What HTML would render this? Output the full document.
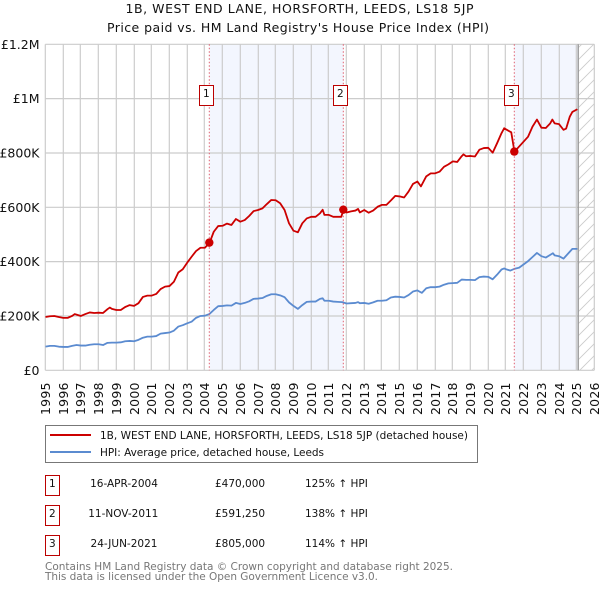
<!DOCTYPE html>
<html lang="en">
<head>
<meta charset="utf-8">
<title>1B, West End Lane price chart</title>
<style>
html,body{margin:0;padding:0;background:#fff;width:600px;height:590px;overflow:hidden}
svg{display:block}
text{font-family:"DejaVu Sans","Liberation Sans",sans-serif;fill:#111}
</style>
</head>
<body>
<svg id="chart" xmlns="http://www.w3.org/2000/svg" width="600" height="590" viewBox="0 0 600 590">
<defs>
<pattern id="hatch" patternUnits="userSpaceOnUse" width="12" height="12" patternTransform="translate(578 0)">
<path d="M0 12L12 0M-3 3L3 -3M9 15L15 9" stroke="#ccc" stroke-width="0.9" fill="none"/>
</pattern>
</defs>
<text x="299.5" y="13" text-anchor="middle" font-size="12.5" textLength="348">1B, WEST END LANE, HORSFORTH, LEEDS, LS18 5JP</text>
<text x="298" y="32" text-anchor="middle" font-size="12.5" textLength="382">Price paid vs. HM Land Registry's House Price Index (HPI)</text>
<g id="bands"></g>
<g id="grid"></g>
<g id="labels"></g>
<g id="series"></g>
<g id="sales"></g>

<g>
<rect x="45.5" y="425.5" width="432" height="37" fill="#fff" stroke="#777" stroke-width="1"/>
<line x1="50" y1="435" x2="91" y2="435" stroke="#cc0000" stroke-width="2"/>
<text x="100" y="439" font-size="10.5" textLength="368">1B, WEST END LANE, HORSFORTH, LEEDS, LS18 5JP (detached house)</text>
<line x1="50" y1="452" x2="91" y2="452" stroke="#5b8bd0" stroke-width="2"/>
<text x="100" y="456" font-size="10.5" textLength="224">HPI: Average price, detached house, Leeds</text>
</g>

<g font-size="10.5">
<g>
<rect x="45.5" y="475.5" width="14" height="20" fill="#fff" stroke="#bb0000" stroke-width="1"/>
<text x="52.3" y="487" text-anchor="middle">1</text>
<text x="124" y="487" text-anchor="middle">16-APR-2004</text>
<text x="215" y="487">£470,000</text>
<text x="305" y="487">125% ↑ HPI</text>
</g>
<g>
<rect x="45.5" y="505.5" width="14" height="20" fill="#fff" stroke="#bb0000" stroke-width="1"/>
<text x="52.3" y="517" text-anchor="middle">2</text>
<text x="123.3" y="517" text-anchor="middle">11-NOV-2011</text>
<text x="215" y="517">£591,250</text>
<text x="305" y="517">138% ↑ HPI</text>
</g>
<g>
<rect x="45.5" y="535.5" width="14" height="20" fill="#fff" stroke="#bb0000" stroke-width="1"/>
<text x="52.3" y="547" text-anchor="middle">3</text>
<text x="124" y="547" text-anchor="middle">24-JUN-2021</text>
<text x="215" y="547">£805,000</text>
<text x="305" y="547">114% ↑ HPI</text>
</g>
</g>
<text x="45" y="570" font-size="10.5" textLength="408" style="fill:#777">Contains HM Land Registry data © Crown copyright and database right 2025.</text>
<text x="45" y="580" font-size="10.5" textLength="333" style="fill:#777">This data is licensed under the Open Government Licence v3.0.</text>
</svg>
<script>
const yearTicks = [1995,1996,1997,1998,1999,2000,2001,2002,2003,2004,2005,2006,2007,2008,2009,2010,2011,2012,2013,2014,2015,2016,2017,2018,2019,2020,2021,2022,2023,2024,2025,2026];
const valueTicks = [0,200,400,600,800,1000,1200];
const valueTickLabels = ["£0","£200K","£400K","£600K","£800K","£1M","£1.2M"];
const saleDates = [2004.27,2011.83,2021.48];
const saleValues = [470,591.25,805];
const saleNumbers = ["1","2","3"];
const dataEnd = 2025.08;

const priceDates = [1995,1995.25,1995.5,1995.75,1996,1996.25,1996.5,1996.65,1996.75,1997,1997.25,1997.5,1997.75,1998,1998.25,1998.5,1998.63,1998.75,1999,1999.25,1999.5,1999.75,2000,2000.25,2000.5,2000.75,2001,2001.25,2001.5,2001.75,2002,2002.25,2002.5,2002.75,2003,2003.25,2003.5,2003.75,2004,2004.27,2004.5,2004.75,2005,2005.25,2005.5,2005.75,2006,2006.25,2006.5,2006.75,2007,2007.25,2007.5,2007.75,2008,2008.25,2008.5,2008.75,2009,2009.25,2009.5,2009.75,2010,2010.25,2010.5,2010.65,2010.75,2011,2011.25,2011.5,2011.7,2011.83,2012,2012.25,2012.5,2012.65,2012.75,2013,2013.25,2013.5,2013.75,2014,2014.25,2014.5,2014.75,2015,2015.25,2015.5,2015.75,2016,2016.2,2016.5,2016.75,2017,2017.25,2017.5,2017.75,2018,2018.25,2018.5,2018.6,2018.75,2019,2019.25,2019.5,2019.75,2020,2020.25,2020.5,2020.75,2020.9,2021,2021.3,2021.48,2021.75,2022,2022.25,2022.5,2022.75,2023,2023.25,2023.5,2023.62,2023.75,2024,2024.25,2024.4,2024.6,2024.75,2025.03];
const priceValues = [196,199,200,196,193,193,200,207,205,200,207,213,211,212,211,225,231,226,222,222,233,240,237,247,270,275,275,281,299,308,310,326,360,372,396,418,439,451,451,470,510,531,532,540,535,557,547,553,568,586,590,596,612,627,626,615,590,541,514,508,541,559,565,565,578,591,572,572,565,565,565,591.25,581,585,588,594,581,590,580,588,602,609,609,625,642,640,636,658,686,695,677,714,725,725,731,749,758,769,767,788,795,788,789,787,812,818,819,801,836,873,891,887,876,805,824,842,860,897,923,893,892,909,923,909,906,885,890,933,951,961];

const hpiDates = [1995,1995.25,1995.5,1995.75,1996,1996.25,1996.5,1996.75,1997,1997.25,1997.5,1997.75,1998,1998.25,1998.5,1998.75,1999,1999.25,1999.5,1999.75,2000,2000.25,2000.5,2000.75,2001,2001.25,2001.5,2001.75,2002,2002.25,2002.5,2002.75,2003,2003.25,2003.5,2003.75,2004,2004.25,2004.5,2004.75,2005,2005.25,2005.5,2005.75,2006,2006.25,2006.5,2006.75,2007,2007.25,2007.5,2007.75,2008,2008.25,2008.5,2008.75,2009,2009.25,2009.5,2009.75,2010,2010.25,2010.5,2010.65,2010.75,2011,2011.25,2011.5,2011.75,2012,2012.25,2012.5,2012.65,2012.75,2013,2013.25,2013.5,2013.75,2014,2014.25,2014.5,2014.75,2015,2015.25,2015.5,2015.75,2016,2016.25,2016.5,2016.75,2017,2017.25,2017.5,2017.75,2018,2018.25,2018.5,2018.75,2019,2019.25,2019.5,2019.75,2020,2020.25,2020.5,2020.75,2020.9,2021,2021.25,2021.5,2021.75,2022,2022.25,2022.5,2022.75,2023,2023.25,2023.5,2023.65,2023.75,2024,2024.25,2024.5,2024.75,2025.03];
const hpiValues = [87,90,90,87,86,86,90,93,91,91,94,96,96,93,101,102,102,103,107,108,107,112,120,124,124,126,135,137,139,146,161,166,173,179,193,200,201,207,222,236,237,239,238,248,244,248,254,263,264,266,274,280,280,276,269,250,237,226,240,252,253,253,263,265,256,256,253,252,251,246,247,248,251,247,248,245,250,256,256,258,268,271,270,268,277,290,294,285,302,306,306,308,315,320,321,322,334,333,333,332,343,345,344,335,352,371,375,372,367,374,378,390,402,417,432,420,415,425,431,423,420,411,429,447,447];

const svgNS = "http://www.w3.org/2000/svg";
const plotLeft = 45.5, plotRight = 594.5, plotTop = 44.3, plotBottom = 370.3;
function xScale(year){ return plotLeft + (year - 1995) * (plotRight - plotLeft) / 31; }
function yScale(value){ return plotBottom - value * (plotBottom - plotTop) / 1200; }
function snapGrid(x){ return Math.round(x - 0.5) + 0.3; }
function snapGuide(x){ return Math.round(x - 0.3) + 0.3; }
function make(tag, parent, attrs, text){
  const el = document.createElementNS(svgNS, tag);
  for (const k in attrs) el.setAttribute(k, attrs[k]);
  if (text !== undefined) el.textContent = text;
  document.getElementById(parent).appendChild(el);
  return el;
}
function linePath(dates, values){
  return dates.map((d, i) => (i ? "L" : "M") + xScale(d).toFixed(2) + " " + yScale(values[i]).toFixed(2)).join("");
}

// shaded ownership bands
saleDates.forEach((d, i) => {
  const end = i + 1 < saleDates.length ? saleDates[i + 1] : dataEnd;
  if (i === 1) return;
  const band = make("rect", "bands", {x: xScale(d), y: plotTop, width: xScale(end) - xScale(d), height: plotBottom - plotTop, fill: "#f3f6fe"});
  
  
});
const hatch = make("rect", "bands", {x: xScale(dataEnd), y: plotTop, width: plotRight - xScale(dataEnd), height: plotBottom - plotTop, fill: "url(#hatch)"});



// grid and tick labels
yearTicks.forEach(y => {
  const gx = snapGrid(xScale(y));
  const line = make("line", "grid", {x1: gx, x2: gx, y1: plotTop, y2: plotBottom, stroke: "#ccc", "stroke-width": 1.2});
  
  
  const label = make("text", "labels", {x: 0, y: 0, "font-size": 12.5, "text-anchor": "end", textLength: 32.5, transform: "translate(" + (gx + 4.6) + " 382.5) rotate(-90)"}, String(y));
  
  
});
valueTicks.forEach((v, i) => {
  const gy = yScale(v);
  const line = make("line", "grid", {x1: plotLeft - 0.2, x2: plotRight - 0.2, y1: gy, y2: gy, stroke: "#ccc", "stroke-width": 1.2});
  
  
  const label = make("text", "labels", {x: 39.5, y: gy + 4.5, "font-size": 12.5, "text-anchor": "end"}, valueTickLabels[i]);
  
  
});
const endLine = make("line", "grid", {x1: xScale(dataEnd), x2: xScale(dataEnd), y1: plotTop, y2: plotBottom, stroke: "#999", "stroke-width": 1.4});



// sale guide lines
saleDates.forEach(d => {
  const gx = snapGuide(xScale(d));
  const guide = make("line", "sales", {x1: gx, x2: gx, y1: plotTop, y2: plotBottom, stroke: "#e06070", "stroke-width": 1, "stroke-dasharray": "1.5 2"});
  
  
});

// series
const hpiLine = make("path", "series", {d: linePath(hpiDates, hpiValues), fill: "none", stroke: "#5b8bd0", "stroke-width": 1.8, "stroke-linejoin": "round"});


const priceLine = make("path", "series", {d: linePath(priceDates, priceValues), fill: "none", stroke: "#cc0000", "stroke-width": 1.8, "stroke-linejoin": "round"});



// sale points and number badges
saleDates.forEach((d, i) => {
  const gx = snapGuide(xScale(d));
  const dot = make("circle", "sales", {cx: gx, cy: yScale(saleValues[i]), r: 4.2, fill: "#cc0000"});
  
  
  const badge = make("rect", "sales", {x: Math.ceil(gx) - 10.5, y: 85.5, width: 14, height: 20, fill: "#fff", stroke: "#bb0000", "stroke-width": 1});
  
  
  const num = make("text", "sales", {x: Math.ceil(gx) - 3.7, y: 97, "font-size": 10.5, "text-anchor": "middle"}, saleNumbers[i]);
  
  
});
</script>
</body>
</html>
